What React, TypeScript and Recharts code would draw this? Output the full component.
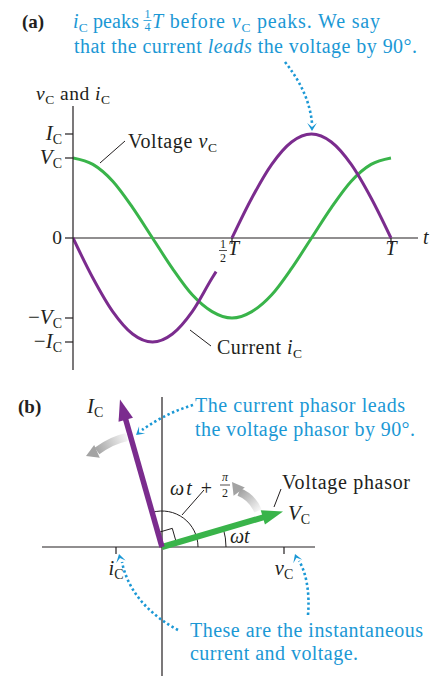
import React from 'react';
import { LineChart, ComposedChart, Line, XAxis, YAxis, ReferenceLine, ReferenceDot } from 'recharts';

const GREEN = '#39b44a';
const PURPLE = '#7b2c8e';
const BLUE = '#1b98d5';
const INK = '#231f20';
const SERIF = '"Liberation Serif", "Times New Roman", serif';

// (a) time in periods T, values in units of V_C
const voltageTimes = [0, 0.0625, 0.125, 0.1875, 0.25, 0.3125, 0.375, 0.4375, 0.5, 0.5625, 0.625, 0.6875, 0.75, 0.8125, 0.875, 0.9375, 1];
const voltageValues = [1, 0.92, 0.71, 0.38, 0, -0.38, -0.71, -0.92, -1, -0.92, -0.71, -0.38, 0, 0.38, 0.71, 0.92, 1];
const currentTimes1 = [0, 0.0625, 0.125, 0.1875, 0.25, 0.3125, 0.375, 0.4375, 0.45];
const currentValues1 = [0, -0.5, -0.92, -1.2, -1.3, -1.2, -0.92, -0.5, -0.42];
const currentTimes2 = [0.5, 0.5625, 0.625, 0.6875, 0.75, 0.8125, 0.875, 0.9375, 1];
const currentValues2 = [0, 0.5, 0.92, 1.2, 1.3, 1.2, 0.92, 0.5, 0];
const levelTicks = [1.3, 1, 0, -1, -1.3];
const levelLabels = ['I', 'V', '0', '−V', '−I'];
const timeTicks = [0.5, 1];

// (b) phasor tips and their projections (same units on both axes)
const voltagePhasor = { x: 1.21, y: 0.355 };
const currentPhasor = { x: -0.42, y: 1.475 };
const projections = [-0.46, 1.22];
const projectionLabels = ['i', 'v'];

const voltageRows = voltageTimes.map((t, i) => ({ t, v: voltageValues[i] }));
const currentRows1 = currentTimes1.map((t, i) => ({ t, v: currentValues1[i] }));
const currentRows2 = currentTimes2.map((t, i) => ({ t, v: currentValues2[i] }));

function LevelTick(props: any) {
  const { x, y, payload } = props;
  const label = levelLabels[levelTicks.indexOf(payload.value)];
  if (label === '0') {
    return <text x={x} y={y + 6} textAnchor="end" fontFamily={SERIF} fontSize={19.5} fill={INK}>0</text>;
  }
  const sign = label.startsWith('−') ? '−' : '';
  const letter = label.slice(-1);
  return (
    <text x={x} y={y + 6} textAnchor="end" fontFamily={SERIF} fontSize={21} fill={INK}>
      {sign && <tspan>{sign}</tspan>}
      <tspan fontStyle="italic">{letter}</tspan>
      <tspan fontSize={14} dy={4}>C</tspan>
    </text>
  );
}

function TimeMark(props: any) {
  const { cx, cy, t } = props;
  return (
    <g fontFamily={SERIF} fill={INK}>
      <line x1={cx} x2={cx} y1={cy} y2={cy + 6} stroke={INK} strokeWidth={1.2} />
      {t === 0.5 ? (
        <g>
          <text x={cx - 9} y={cy + 10} textAnchor="middle" fontSize={12}>1</text>
          <line x1={cx - 13} x2={cx - 5} y1={cy + 12.5} y2={cy + 12.5} stroke={INK} strokeWidth={0.8} />
          <text x={cx - 9} y={cy + 23.5} textAnchor="middle" fontSize={12}>2</text>
          <text x={cx - 4} y={cy + 17} fontSize={20} fontStyle="italic">T</text>
        </g>
      ) : (
        <text x={cx} y={cy + 17} textAnchor="middle" fontSize={20} fontStyle="italic">T</text>
      )}
    </g>
  );
}

function ArrowDot(props: any) {
  const { cx, cy, index, points, payload, color, width } = props;
  if (index !== 1) return <g key={`a-${index}`} />;
  const p0 = points && points[0] ? points[0] : { x: cx - payload.x * 100, y: cy + payload.y * 100 };
  const dx = cx - p0.x;
  const dy = cy - p0.y;
  const len = Math.hypot(dx, dy);
  const ux = dx / len;
  const uy = dy / len;
  const head = 21;
  const half = 7.5;
  const bx = cx - ux * head;
  const by = cy - uy * head;
  return (
    <g key={`a-${index}`}>
      <line x1={p0.x} y1={p0.y} x2={bx + ux * 3} y2={by + uy * 3} stroke={color} strokeWidth={width} />
      <polygon
        points={`${cx},${cy} ${bx - uy * half},${by + ux * half} ${bx + uy * half},${by - ux * half}`}
        fill={color}
      />
    </g>
  );
}

function AngleMarks(props: any) {
  const { cx, cy } = props;
  const av = Math.atan2(voltagePhasor.y, voltagePhasor.x);
  const ai = Math.atan2(currentPhasor.y, currentPhasor.x);
  const pt = (r: number, a: number) => `${cx + r * Math.cos(a)},${cy - r * Math.sin(a)}`;
  const s = 15;
  const corner = `${cx + s * (Math.cos(av) + Math.cos(ai))},${cy - s * (Math.sin(av) + Math.sin(ai))}`;
  return (
    <g fill="none" stroke={INK} strokeWidth={1}>
      <path d={`M${pt(36, 0)} A36,36 0 0 0 ${pt(36, ai)}`} />
      <path d={`M${pt(64, 0)} A64,64 0 0 0 ${pt(64, av)}`} />
      <polyline points={`${pt(s, av)} ${corner} ${pt(s, ai)}`} />
    </g>
  );
}

function ProjectionMark(props: any) {
  const { cx, cy, name } = props;
  return (
    <g fontFamily={SERIF} fill={INK}>
      <line x1={cx} x2={cx} y1={cy} y2={cy + 7} stroke={INK} strokeWidth={1.2} />
      <text x={cx} y={cy + 28} textAnchor="middle" fontSize={20.5}>
        <tspan fontStyle="italic">{name}</tspan>
        <tspan fontSize={14} dy={4}>C</tspan>
      </text>
    </g>
  );
}

function chevron(x: number, y: number, angle: number, size = 8) {
  const ux = Math.cos(angle);
  const uy = Math.sin(angle);
  const bx = x - ux * size;
  const by = y - uy * size;
  const nx = x - ux * size * 0.5;
  const ny = y - uy * size * 0.5;
  const w = size * 0.6;
  return `${x},${y} ${bx - uy * w},${by + ux * w} ${nx},${ny} ${bx + uy * w},${by - ux * w}`;
}

function Overlay() {
  const dots = { fill: 'none', stroke: BLUE, strokeWidth: 2.6, strokeDasharray: '2.4 2.6' };
  const fit = { lengthAdjust: 'spacing' as const };
  return (
    <svg width={443} height={676} style={{ position: 'absolute', left: 0, top: 0, pointerEvents: 'none' }} fontFamily={SERIF}>
      <defs>
        <linearGradient id="rotA" gradientUnits="userSpaceOnUse" x1={128} y1={437} x2={96} y2={452}>
          <stop offset="0" stopColor="#f7f7f7" />
          <stop offset="1" stopColor="#a3a3a3" />
        </linearGradient>
        <linearGradient id="rotB" gradientUnits="userSpaceOnUse" x1={258} y1={512} x2={239} y2={492}>
          <stop offset="0" stopColor="#f7f7f7" />
          <stop offset="1" stopColor="#a3a3a3" />
        </linearGradient>
      </defs>

      {/* (a) header */}
      <text x={22} y={28} fontSize={19} fontWeight="bold" fill={INK}>(a)</text>
      <text x={73} y={28} fontSize={20} fill={BLUE} textLength={66} {...fit}>
        <tspan fontStyle="italic">i</tspan>
        <tspan fontSize={13.5} dy={4}>C</tspan>
        <tspan dy={-4}> peaks</tspan>
      </text>
      <text x={147.5} y={17.5} fontSize={12} textAnchor="middle" fill={BLUE}>1</text>
      <line x1={143.5} x2={151.5} y1={20.5} y2={20.5} stroke={BLUE} strokeWidth={0.8} />
      <text x={147.5} y={31} fontSize={12} textAnchor="middle" fill={BLUE}>4</text>
      <text x={152} y={28} fontSize={20} fill={BLUE} textLength={228} {...fit}>
        <tspan fontStyle="italic">T</tspan>
        <tspan> before </tspan>
        <tspan fontStyle="italic">v</tspan>
        <tspan fontSize={13.5} dy={4}>C</tspan>
        <tspan dy={-4}> peaks. We say</tspan>
      </text>
      <text x={74} y={53} fontSize={20} fill={BLUE} textLength={343} {...fit}>
        that the current <tspan fontStyle="italic">leads</tspan> the voltage by 90°.
      </text>
      <path d="M285,62 Q309,92 312,123" {...dots} />
      <polygon points={chevron(312, 131, Math.PI / 2)} fill={BLUE} />

      {/* (a) axis captions */}
      <text x={36} y={100} fontSize={19.5} fill={INK} textLength={74} {...fit}>
        <tspan fontStyle="italic">v</tspan>
        <tspan fontSize={13.5} dy={4}>C</tspan>
        <tspan dy={-4}> and </tspan>
        <tspan fontStyle="italic">i</tspan>
        <tspan fontSize={13.5} dy={4}>C</tspan>
      </text>
      <text x={423} y={244} fontSize={20} fontStyle="italic" fill={INK}>t</text>
      <line x1={100} y1={163} x2={125} y2={141} stroke={INK} strokeWidth={1} />
      <text x={128} y={148} fontSize={20} fill={INK} textLength={89} {...fit}>
        Voltage <tspan fontStyle="italic">v</tspan>
        <tspan fontSize={13.5} dy={4}>C</tspan>
      </text>
      <line x1={190} y1={330} x2={211} y2={346} stroke={INK} strokeWidth={1} />
      <text x={217} y={354} fontSize={20} fill={INK} textLength={85} {...fit}>
        Current <tspan fontStyle="italic">i</tspan>
        <tspan fontSize={13.5} dy={4}>C</tspan>
      </text>

      {/* (b) labels */}
      <text x={18} y={413} fontSize={19} fontWeight="bold" fill={INK}>(b)</text>
      <text x={87} y={413} fontSize={21} fill={INK}>
        <tspan fontStyle="italic">I</tspan>
        <tspan fontSize={14} dy={4}>C</tspan>
      </text>
      <text x={195} y={412} fontSize={20} fill={BLUE} textLength={210} {...fit}>The current phasor leads</text>
      <text x={195} y={436} fontSize={20} fill={BLUE} textLength={220} {...fit}>the voltage phasor by 90°.</text>
      <path d="M193,405 Q166,413 142,430" {...dots} />
      <polygon points={chevron(136, 435, Math.atan2(5, -6))} fill={BLUE} />

      <path d="M127,437 Q112,440 97,451" fill="none" stroke="url(#rotA)" strokeWidth={8} />
      <polygon points="86,456 99.8,457.7 94.2,444.9" fill="#a3a3a3" />
      <path d="M258,511 Q252,497 239,492" fill="none" stroke="url(#rotB)" strokeWidth={8} />
      <polygon points="232,482 244.8,487.4 233.6,495.8" fill="#a3a3a3" />

      <text x={170} y={495} fontSize={20} fill={INK} textLength={42} {...fit}>
        <tspan fontStyle="italic">ωt</tspan> +
      </text>
      <text x={225} y={481} fontSize={12} fontStyle="italic" textAnchor="middle" fill={INK}>π</text>
      <line x1={220} x2={230} y1={485} y2={485} stroke={INK} strokeWidth={0.8} />
      <text x={225} y={497} fontSize={12} textAnchor="middle" fill={INK}>2</text>
      <line x1={182} y1={515} x2={204} y2={490} stroke={INK} strokeWidth={1} />

      <text x={282} y={489} fontSize={20} fill={INK} textLength={128} {...fit}>Voltage phasor</text>
      <line x1={274} y1={507} x2={281} y2={489} stroke={INK} strokeWidth={1} />
      <text x={288} y={520} fontSize={21} fill={INK}>
        <tspan fontStyle="italic">V</tspan>
        <tspan fontSize={14} dy={4}>C</tspan>
      </text>
      <text x={230} y={543} fontSize={20} fontStyle="italic" fill={INK}>ωt</text>

      <text x={190} y={637} fontSize={20} fill={BLUE} textLength={233} {...fit}>These are the instantaneous</text>
      <text x={190} y={660} fontSize={20} fill={BLUE} textLength={168} {...fit}>current and voltage.</text>
      <path d="M178,630 C150,615 128,592 122,562" {...dots} />
      <polygon points={chevron(119, 554, Math.atan2(-8, -2))} fill={BLUE} />
      <path d="M308,615 C310,592 306,572 299,561" {...dots} />
      <polygon points={chevron(295, 554, Math.atan2(-8, -3))} fill={BLUE} />
    </svg>
  );
}

export default function App() {
  return (
    <div style={{ position: 'relative', width: 443, height: 676, background: '#fff', overflow: 'hidden' }}>
      <style>{'body{margin:0}'}</style>
      <div style={{ position: 'absolute', left: 0, top: 0 }}>
        <LineChart width={443} height={380} margin={{ top: 106, right: 25, bottom: 10, left: 0 }}>
          <XAxis dataKey="t" type="number" domain={[0, 1.085]} allowDataOverflow hide />
          <YAxis
            type="number"
            domain={[-1.65, 1.65]}
            allowDataOverflow
            ticks={levelTicks}
            interval={0}
            width={73}
            tickSize={8}
            tickMargin={3}
            axisLine={{ stroke: INK, strokeWidth: 1.2 }}
            tickLine={{ stroke: INK, strokeWidth: 1.2 }}
            tick={<LevelTick />}
          />
          <ReferenceLine y={0} stroke={INK} strokeWidth={1.2} />
          <Line data={voltageRows} dataKey="v" type="monotone" stroke={GREEN} strokeWidth={3} dot={false} isAnimationActive={false} />
          <Line data={currentRows1} dataKey="v" type="monotone" stroke={PURPLE} strokeWidth={3} dot={false} isAnimationActive={false} />
          <Line data={currentRows2} dataKey="v" type="monotone" stroke={PURPLE} strokeWidth={3} dot={false} isAnimationActive={false} />
          {timeTicks.map((t) => (
            <ReferenceDot key={t} x={t} y={0} r={0} shape={(p: any) => <TimeMark {...p} t={t} />} />
          ))}
        </LineChart>
      </div>
      <div style={{ position: 'absolute', left: 0, top: 380 }}>
        <ComposedChart width={443} height={296} margin={{ top: 17, right: 128, bottom: 0, left: 42 }}>
          <XAxis dataKey="x" type="number" domain={[-1.2, 1.53]} allowDataOverflow hide />
          <YAxis type="number" domain={[-1.29, 1.5]} allowDataOverflow hide />
          <ReferenceLine y={0} stroke={INK} strokeWidth={1.2} />
          <ReferenceLine x={0} stroke={INK} strokeWidth={1.2} />
          {projections.map((x, i) => (
            <ReferenceDot key={x} x={x} y={0} r={0} shape={(p: any) => <ProjectionMark {...p} name={projectionLabels[i]} />} />
          ))}
          <ReferenceDot x={0} y={0} r={0} shape={(p: any) => <AngleMarks {...p} />} />
          <Line
            data={[{ x: 0, y: 0 }, voltagePhasor]}
            dataKey="y"
            stroke="none"
            dot={(p: any) => <ArrowDot {...p} color={GREEN} width={6} />}
            isAnimationActive={false}
          />
          <Line
            data={[{ x: 0, y: 0 }, currentPhasor]}
            dataKey="y"
            stroke="none"
            dot={(p: any) => <ArrowDot {...p} color={PURPLE} width={5.5} />}
            isAnimationActive={false}
          />
        </ComposedChart>
      </div>
      <Overlay />
    </div>
  );
}
